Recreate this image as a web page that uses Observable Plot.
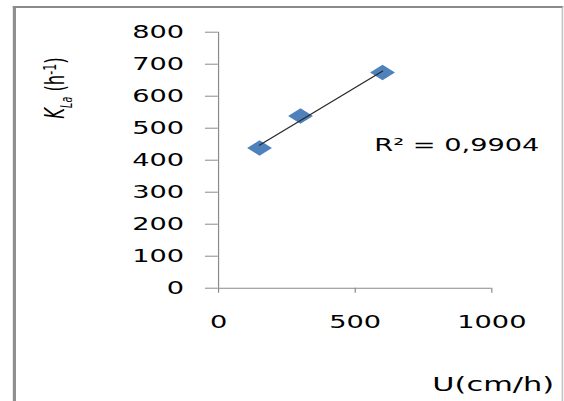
<!DOCTYPE html>
<html><head><meta charset="utf-8">
<script src="https://cdn.jsdelivr.net/npm/d3@7"></script>
<script src="https://cdn.jsdelivr.net/npm/@observablehq/plot@0.6"></script>
<style>
html,body{margin:0;padding:0;background:#fff;overflow:hidden;width:564px;height:401px;}
#stage{position:absolute;left:0;top:0;width:352.5px;height:401px;transform:scaleX(1.6);transform-origin:0 0;}
#frame{position:absolute;left:8.3px;top:5.7px;width:344px;height:420px;box-sizing:border-box;border-top:2.3px solid #8a8a8a;border-left:2.1px solid #8f8f8f;border-right:1px solid #c4c4c4;}
#chart{position:absolute;left:0;top:0;}
</style></head><body>
<div id="stage"><div id="frame"></div><div id="chart"></div></div>
<script>
// data
const U = [150, 300, 600];
const KLa = [438, 538, 674];
const xTicks = [0, 500, 1000];
const yTicks = [0, 100, 200, 300, 400, 500, 600, 700, 800];
const r2Text = "R² = 0,9904";
const xLabel = "U(cm/h)";
const yLabelText = "KLa (h-1)";

const points = U.map((u, i) => ({U: u, KLa: KLa[i]}));
const gray = "#8a8a8a";
const font = "DejaVu Sans, Verdana, sans-serif";

const plot = Plot.plot({
  width: 352.5,
  height: 401,
  marginLeft: 136.1,
  marginRight: 45.6,
  marginTop: 31.7,
  marginBottom: 113.3,
  style: {fontFamily: font, fontSize: "17px", color: "#000", background: "transparent", overflow: "visible"},
  x: {domain: [0, 1000]},
  y: {domain: [0, 800]},
  marks: [
    Plot.ruleY([0], {stroke: gray, strokeWidth: 1}),
    Plot.ruleX([0], {stroke: gray, strokeWidth: 0.75}),
    Plot.axisY({ticks: yTicks, tickFormat: d => String(d), tickSize: 8, tickPadding: 13.5, stroke: gray, fill: "#000", fontSize: 17, label: null}),
    Plot.axisX({ticks: xTicks, tickFormat: d => String(d), tickSize: 5, tickPadding: 22.3, stroke: gray, strokeWidth: 0.75, fill: "#000", fontSize: 17, label: null}),
    Plot.dot(points, {x: "U", y: "KLa", symbol: "diamond2", r: 7, fill: "#4F81BD", stroke: "none"}),
    Plot.linearRegressionY(points, {x: "U", y: "KLa", ci: 0, stroke: "#2a2a2a", strokeWidth: 1}),
    Plot.text([r2Text], {x: 570, y: 445, text: d => d, textAnchor: "start", lineAnchor: "middle", fontSize: 17, fill: "#000"}),
    Plot.text([xLabel], {frameAnchor: "bottom-right", text: d => d, dx: 38.9, dy: 97.2, textAnchor: "end", lineAnchor: "middle", fontSize: 19, fill: "#000"}),
    Plot.text([yLabelText], {frameAnchor: "left", text: d => d, rotate: -90, dx: -101.8, dy: -72.2, textAnchor: "middle", lineAnchor: "middle", fontSize: 16.5, fill: "#000"})
  ]
});
document.getElementById("chart").appendChild(plot);

// rich y label: italic K with subscript La, superscript -1
const yl = Array.from(plot.querySelectorAll("text")).find(t => t.textContent === yLabelText);
if (yl) {
  while (yl.firstChild) yl.removeChild(yl.firstChild);
  const parts = [
    {t: "K", italic: true},
    {t: "La", italic: true, size: 9.5, dy: 5},
    {t: " (h", dy: -5},
    {t: "-1", size: 11, dy: -5},
    {t: ")", dy: 5}
  ];
  d3.select(yl).selectAll("tspan").data(parts).join("tspan")
    .attr("font-style", d => d.italic ? "italic" : null)
    .attr("font-size", d => d.size || null)
    .attr("dy", d => d.dy ? d.dy + "px" : null)
    .text(d => d.t);
}
</script>
</body></html>
